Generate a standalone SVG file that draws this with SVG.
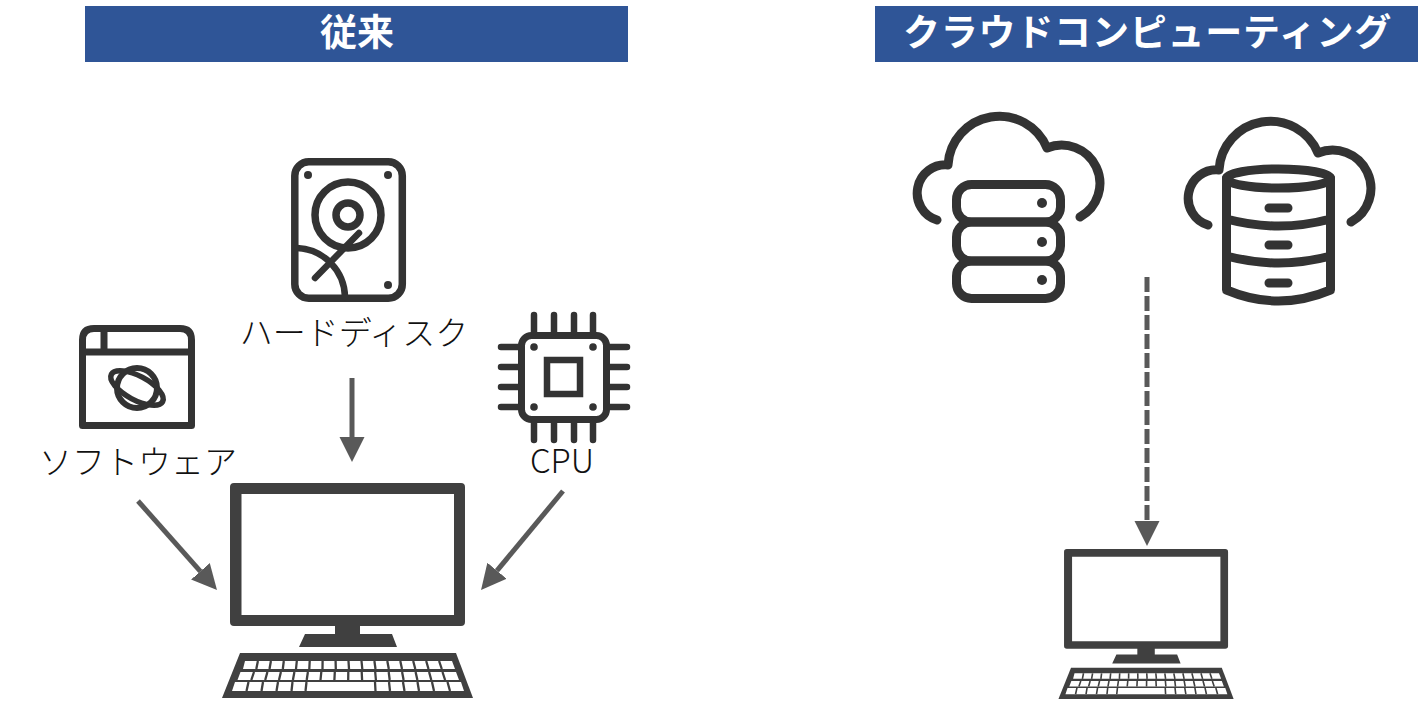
<svg xmlns="http://www.w3.org/2000/svg" xmlns:xlink="http://www.w3.org/1999/xlink" width="1424" height="703" viewBox="0 0 1424 703">
<style>
.band{fill:#2F5597}
.title{font-family:"Noto Sans CJK JP","Noto Sans",sans-serif;font-weight:700;font-size:37px;fill:#fff;text-anchor:middle}
.label{font-family:"Noto Sans CJK JP","Noto Sans",sans-serif;font-weight:300;font-size:33px;fill:#111;text-anchor:middle}
.ic{fill:none;stroke:#333;stroke-linecap:round;stroke-linejoin:round}
.dot{fill:#333}
.conn{fill:none;stroke:#595959;stroke-width:5}
</style>
<defs>
<marker id="head" markerUnits="userSpaceOnUse" markerWidth="26" markerHeight="26" refX="0" refY="13" orient="auto">
<path d="M0 0.5L25 13L0 25.5Z" fill="#595959"/>
</marker>
<path id="cloud" class="ic" stroke-width="9" d="M937 220A28.200 28.200 0 0 1 948 165A51.500 51.500 0 0 1 1047 148A38.300 38.300 0 0 1 1080 217"/>
<g id="pc">
<path fill="#404040" fill-rule="evenodd" d="M234 483H461Q465 483 465 487V622Q465 626 461 626H360V634H392L397 647H299L305 634H335V626H234Q230 626 230 622V487Q230 483 234 483ZM241.500 494V615H454V494Z"/>
<path fill="#404040" d="M240 653H456L473 698H222Z"/>
<path fill="#fff" d="M245 661H452L455 669H243ZM240.500 672H456L459 680H237.500ZM235 682H461L464 691H232Z"/>
<path fill="none" stroke="#404040" stroke-width="2.300" d="M257.900 661L256.300 669M270.900 661L269.500 669M283.800 661L282.800 669M296.800 661L296 669M309.700 661L309.300 669M322.600 661L322.500 669M335.600 661L335.800 669M348.500 661L349 669M361.500 661L362.300 669M374.400 661L375.500 669M387.300 661L388.800 669M400.300 661L402 669M413.200 661L415.300 669M426.200 661L428.500 669M439.100 661L441.800 669M254 672L251.300 680M267.400 672L265.200 680M280.900 672L279 680M294.400 672L292.900 680M307.900 672L306.700 680M321.300 672L320.500 680M334.800 672L334.400 680M348.300 672L348.200 680M361.700 672L362.100 680M375.200 672L375.900 680M388.700 672L389.700 680M402.100 672L403.600 680M415.600 672L417.400 680M429.100 672L431.300 680M442.500 672L445.100 680M248.500 682L246.500 691M263 682L261.500 691M278 682L276.500 691M292.500 682L291.500 691M306.500 682L305.500 691M375 682L375.500 691M389 682L390 691M403 682L404.500 691M417.500 682L419 691M432 682L434 691M447.500 682L450 691"/>
</g>
</defs>
<g id="header-left"><rect class="band" x="85" y="6" width="543" height="56"/><text class="title" x="357" y="46">従来</text></g>
<g id="header-right"><rect class="band" x="875" y="6" width="543" height="56"/><text class="title" x="1147.500" y="46" letter-spacing="0.800">クラウドコンピューティング</text></g>
<g id="hdd">
<rect class="ic" stroke-width="7.500" x="294.800" y="161.800" width="107.500" height="136.500" rx="14"/>
<circle class="dot" cx="308" cy="175" r="4"/><circle class="dot" cx="388" cy="175" r="4"/><circle class="dot" cx="388" cy="285" r="4"/>
<circle class="ic" stroke-width="7.500" cx="348" cy="215" r="33"/><circle class="ic" stroke-width="7.500" cx="348" cy="215" r="12"/>
<path class="ic" stroke-width="6.500" d="M315 278L359 233M297 248A50 50 0 0 1 345 297"/>
<text class="label" x="354" y="345">ハードディスク</text>
</g>
<g id="software">
<path class="ic" stroke-width="7" d="M82.500 425.500V340Q82.500 328.500 94 328.500H180Q191.500 328.500 191.500 340V425.500ZM82.500 352H191.500M104 328.500V352"/>
<circle class="ic" stroke-width="6" cx="137" cy="388" r="20"/>
<ellipse class="ic" stroke-width="5.500" cx="137" cy="388" rx="29" ry="12" transform="rotate(28 137 388)"/>
<text class="label" x="138" y="474">ソフトウェア</text>
</g>
<g id="cpu">
<rect class="ic" stroke-width="7" x="521.500" y="335.500" width="85" height="84" rx="10"/>
<path class="ic" stroke-width="6.500" d="M534 315V332M554 315V332M574 315V332M593 315V332M534 423V440M554 423V440M574 423V440M593 423V440M501 347H518M501 367H518M501 387H518M501 407H518M610 347H627M610 367H627M610 387H627M610 407H627"/>
<rect fill="none" stroke="#333" stroke-width="6.500" x="547" y="360" width="33" height="34"/>
<circle class="dot" cx="534" cy="347" r="3.800"/><circle class="dot" cx="593" cy="347" r="3.800"/><circle class="dot" cx="534" cy="407" r="3.800"/><circle class="dot" cx="593" cy="407" r="3.800"/>
<text class="label" x="562" y="473">CPU</text>
</g>
<g id="pc-left"><use href="#pc"/></g>
<g id="cloud-server">
<use href="#cloud"/>
<rect class="ic" stroke-width="9" x="956.500" y="184.500" width="104" height="37.500" rx="15"/>
<rect class="ic" stroke-width="9" x="956.500" y="222" width="104" height="39" rx="15"/>
<rect class="ic" stroke-width="9" x="956.500" y="261" width="104" height="37.500" rx="15"/>
<circle class="dot" cx="1042" cy="203" r="5"/><circle class="dot" cx="1042" cy="242" r="5"/><circle class="dot" cx="1042" cy="280" r="5"/>
</g>
<g id="cloud-db">
<use href="#cloud" transform="translate(271 5)"/>
<path fill="#fff" d="M1226 178H1331V296Q1278 310 1226 296Z"/>
<ellipse class="ic" stroke-width="9" cx="1278.500" cy="178.500" rx="52" ry="9.500"/>
<path class="ic" stroke-width="9" d="M1226.500 178V290Q1278.500 312 1330.500 290V178M1226.500 219Q1278.500 233 1330.500 219M1226.500 256Q1278.500 270 1330.500 256M1269 208H1288M1269 245H1288M1269 283H1288"/>
</g>
<g id="pc-right"><use href="#pc" transform="translate(903.500 211.900) scale(0.698)"/></g>
<g id="connectors">
<path class="conn" marker-end="url(#head)" d="M352 378V437"/>
<path class="conn" marker-end="url(#head)" d="M138 501L200.400 571.300"/>
<path class="conn" marker-end="url(#head)" d="M563 491L497 570.700"/>
<path class="conn" marker-end="url(#head)" stroke-dasharray="15 4" d="M1147 277V521"/>
</g>
</svg>
